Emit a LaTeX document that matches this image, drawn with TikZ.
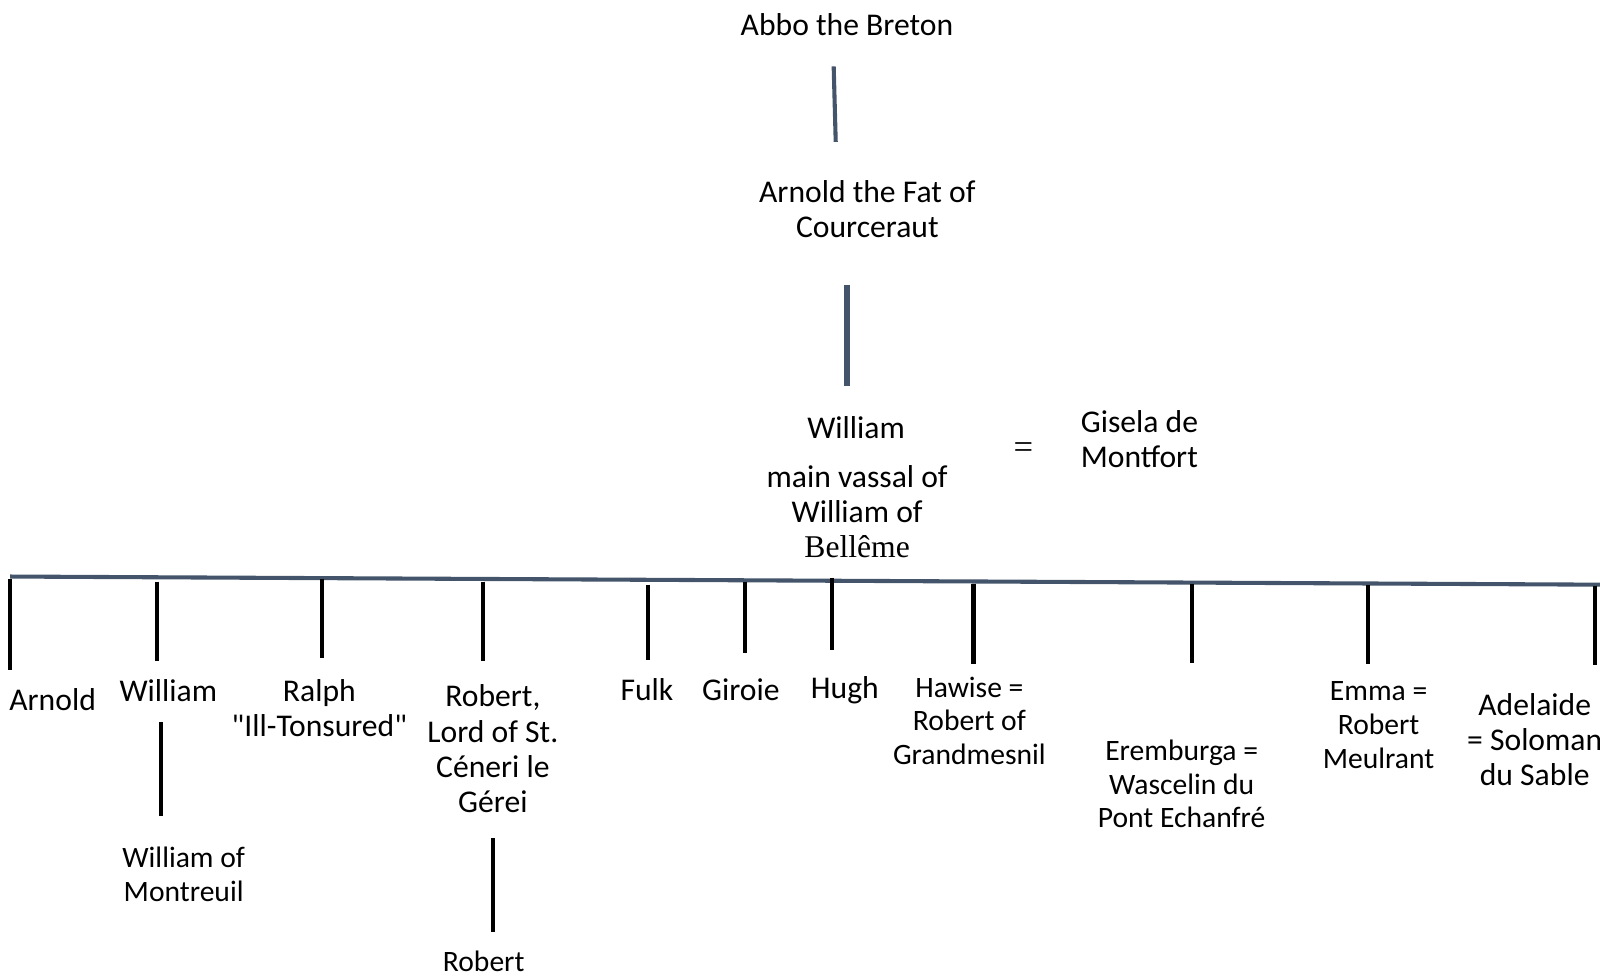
\documentclass[tikz,border=0pt]{standalone}
\usepackage{fontspec}
\setmainfont{Carlito}[Ligatures=TeXOff]
\newfontfamily\serifbit{Liberation Serif}
\definecolor{slate}{HTML}{44546A}

\begin{document}
\begin{tikzpicture}[
    x=1pt,y=-1pt,
    person/.style={font=\fontsize{31}{34.5}\selectfont, align=center, inner sep=0pt, anchor=north},
    small/.style={font=\fontsize{29}{33}\selectfont},
    stem/.style={line width=4pt, slate},
    drop/.style={line width=4pt, black}
    ]
    \useasboundingbox (0,0) rectangle (1568,957);
    % ancestors
    \node[person] (abbo) at (830, 13) {Abbo the Breton};
    \node[person] (arnoldfat) at (850, 177) {Arnold the Fat of\\Courceraut};
    \node[person] (william) at (839, 408) {William};
    \node[person] (vassal) at (840, 456) {main vassal of\\William of\\{\serifbit Bellême}};
    \node[person, anchor=center, font=\fontsize{34}{34}\serifbit] (wed) at (1003, 442) {=};
    \node[person, anchor=north west, align=left] (gisela) at (1059, 402) {Gisela de\\Montfort};
    \coordinate (abbo-d) at (817, 65);
    \coordinate (arnoldfat-u) at (819, 139);
    \coordinate (arnoldfat-d) at (830, 279);
    \coordinate (william-u) at (830, 378);
    \draw[stem] (abbo-d) -- (arnoldfat-u);
    \draw[line width=5pt, slate] (arnoldfat-d) -- (william-u);
    % children bar
    \coordinate (bar-l) at (10, 565);
    \coordinate (bar-r) at (1572, 573);
    \draw[stem] (bar-l) -- (bar-r);
    \foreach \n/\x/\t/\b in {arnold/10/567/657, williamj/154/570/648, ralph/316/567/645,
        robert/473/570/648, fulk/635/573/647, giroie/730/570/640, hugh/815/566/637,
        hawise/954/572/651, eremburga/1168/572/650, emma/1341/573/651, adelaide/1563/574/652}{
      \coordinate (\n-t) at (\x, \t);
      \coordinate (\n-b) at (\x, \b);
      \draw[drop] (\n-t) -- (\n-b);
    }
    % children
    \node[person, anchor=north west] (arnold) at (9, 675) {Arnold};
    \node[person] (williamj) at (165, 666) {William};
    \node[person] (ralph) at (313, 666) {Ralph\\"Ill-Tonsured"};
    \node[person] (robert) at (483, 671) {Robert,\\Lord of St.\\Céneri le\\Gérei};
    \node[person] (fulk) at (634, 665) {Fulk};
    \node[person] (giroie) at (726, 665) {Giroie};
    \node[person] (hugh) at (828, 663) {Hugh};
    \node[person, small] (hawise) at (950, 663) {Hawise =\\Robert of\\Grandmesnil};
    \node[person, small] (eremburga) at (1158, 725) {Eremburga =\\Wascelin du\\Pont Echanfré};
    \node[person, small] (emma) at (1351, 668) {Emma =\\Robert\\Meulrant};
    \node[person] (adelaide) at (1504, 679) {Adelaide\\= Soloman\\du Sable};
    % grandchildren
    \node[person, small] (montreuil) at (180, 830) {William of\\Montreuil};
    \node[person, small] (robertj) at (474, 932) {Robert};
    \coordinate (williamj-d) at (158, 708);
    \coordinate (montreuil-u) at (158, 800);
    \coordinate (robert-d) at (483, 821);
    \coordinate (robertj-u) at (483, 913);
    \draw[drop] (williamj-d) -- (montreuil-u);
    \draw[drop] (robert-d) -- (robertj-u);
\end{tikzpicture}
\end{document}
